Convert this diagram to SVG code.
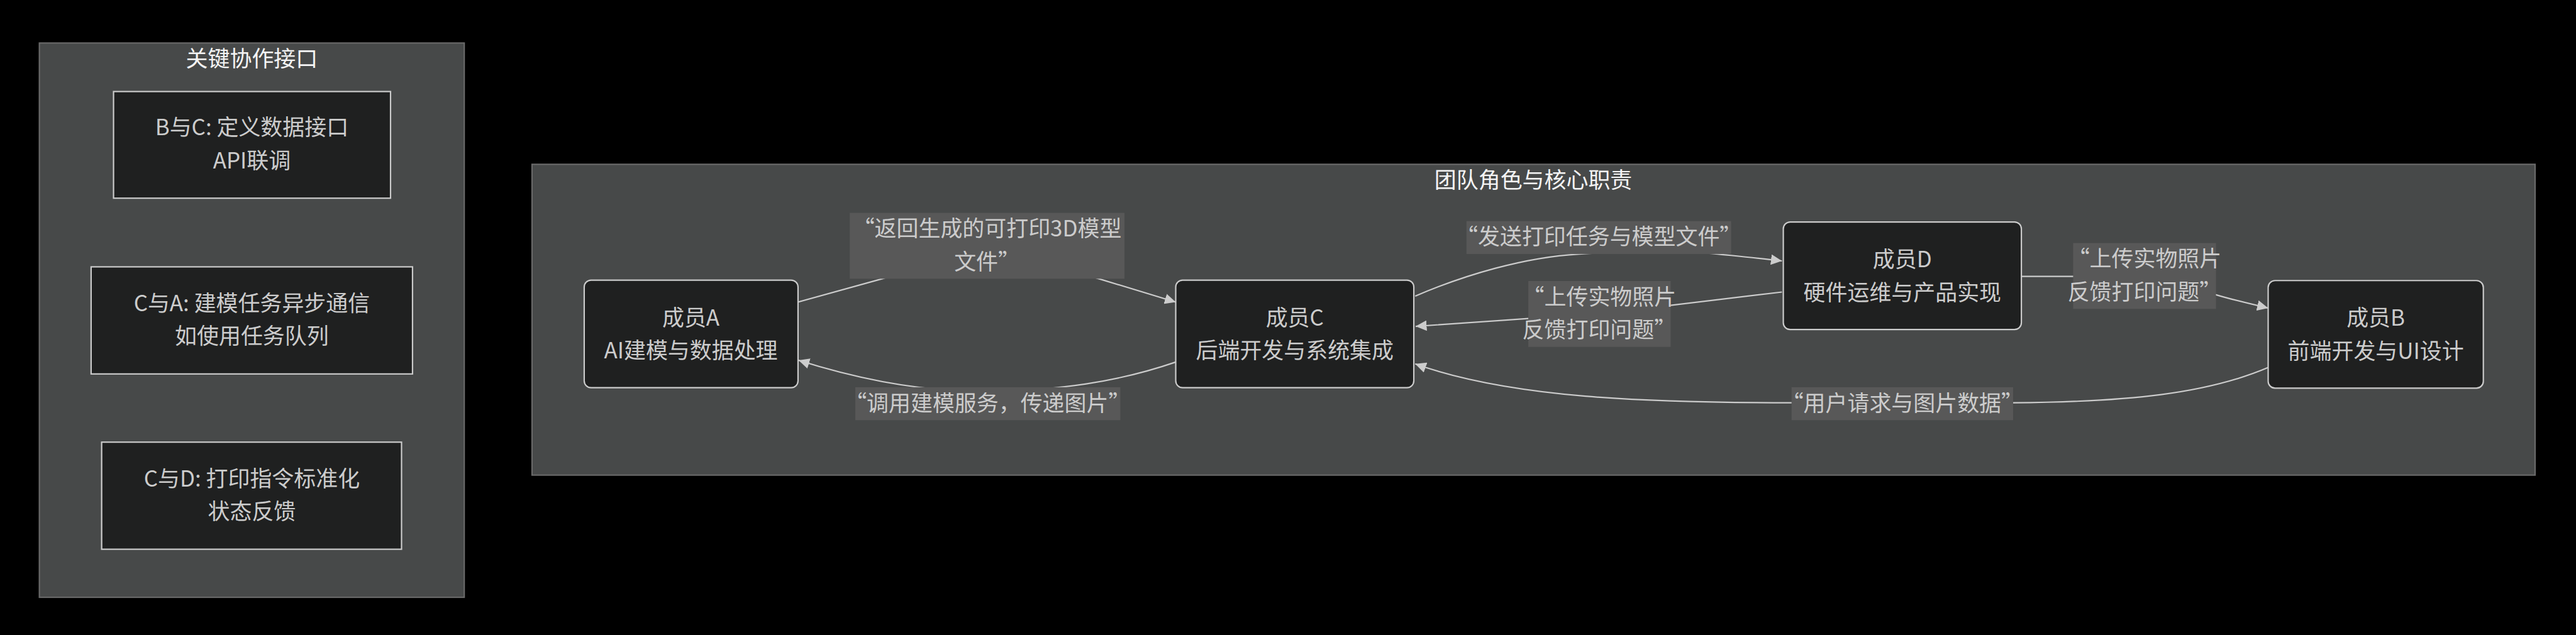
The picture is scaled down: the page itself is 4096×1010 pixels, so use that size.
<svg xmlns="http://www.w3.org/2000/svg" width="4096" height="1010" viewBox="0 0 4096 1010">
<defs>
<style>
.cluster rect{fill:#474949;stroke:#6a6a6a;stroke-width:3}
.ctitle{fill:#f4f4f4;font-family:"Noto Sans CJK SC","Liberation Sans",sans-serif;font-size:48px;text-anchor:middle}
.node rect{fill:#1f2020;stroke:#cccccc;stroke-width:3}
.node text,.elabel text{fill:#cccccc;font-family:"Noto Sans CJK SC","Liberation Sans",sans-serif;font-size:48px;text-anchor:middle}
.edge{fill:none;stroke:#cccccc;stroke-width:3;marker-end:url(#arrow)}
.elabel rect{fill:#585858}
</style>
<marker id="arrow" markerUnits="userSpaceOnUse" viewBox="0 0 24 23" refX="24" refY="11.5" markerWidth="24" markerHeight="23" orient="auto"><path d="M0,0 L24,11.5 L0,23 z" fill="#cccccc"/></marker>
</defs>
<rect width="4096" height="1010" fill="#000000"/>
<g transform="scale(0.728)">
  <g id="cluster-interfaces" class="cluster">
    <rect x="86" y="94" width="928" height="1211"/>
    <text class="ctitle" x="550" y="145">关键协作接口</text>
  </g>
  <g id="cluster-team" class="cluster">
    <rect x="1162" y="359" width="4375" height="679"/>
    <text class="ctitle" x="3349" y="411">团队角色与核心职责</text>
  </g>

  <g id="connectors">
    <path id="e-A-C" class="edge" d="M1743,660 L1927,609 C2020,580 2300,580 2400,609 L2568,660"/>
    <path id="e-C-A" class="edge" d="M2568,791 C2440,835 2310,853 2160,855 C2020,857 1880,830 1744,787"/>
    <path id="e-C-D" class="edge" d="M3091,647 C3200,600 3330,562 3449,555 C3560,548 3680,548 3752,555 C3800,560 3850,565 3892,570"/>
    <path id="e-D-C" class="edge" d="M3892,638 L3649,667 C3550,679 3440,689 3338,696 C3250,702 3170,708 3092,713"/>
    <path id="e-D-B" class="edge" d="M4416,604 L4560,604 C4680,604 4760,620 4840,644 C4880,656 4920,665 4954,673"/>
    <path id="e-B-C" class="edge" d="M4954,803 C4820,860 4650,878 4397,880 L3911,880 C3600,880 3300,870 3091,795"/>

    <g class="elabel" id="l-A-C">
      <rect x="1856" y="465" width="600" height="144"/>
      <text x="2156" y="517">“返回生成的可打印3D模型</text>
      <text x="2156" y="589">文件”</text>
    </g>
    <g class="elabel" id="l-C-A">
      <rect x="1868" y="846" width="579" height="72"/>
      <text x="2157" y="898">“调用建模服务，传递图片”</text>
    </g>
    <g class="elabel" id="l-C-D">
      <rect x="3203" y="483" width="578" height="72"/>
      <text x="3492" y="535">“发送打印任务与模型文件”</text>
    </g>
    <g class="elabel" id="l-D-C">
      <rect x="3338" y="614" width="311" height="144"/>
      <text x="3493" y="666">“上传实物照片</text>
      <text x="3493" y="738">反馈打印问题”</text>
    </g>
    <g class="elabel" id="l-D-B">
      <rect x="4528" y="531" width="312" height="144"/>
      <text x="4684" y="583">“上传实物照片</text>
      <text x="4684" y="655">反馈打印问题”</text>
    </g>
    <g class="elabel" id="l-B-C">
      <rect x="3913" y="846" width="484" height="72"/>
      <text x="4155" y="898">“用户请求与图片数据”</text>
    </g>
  </g>

  <g id="node-BC" class="node">
    <rect x="248" y="200" width="605" height="233"/>
    <text x="550" y="296">B与C: 定义数据接口</text>
    <text x="550" y="368">API联调</text>
  </g>
  <g id="node-CA" class="node">
    <rect x="199" y="583" width="702" height="234"/>
    <text x="550" y="680">C与A: 建模任务异步通信</text>
    <text x="550" y="752">如使用任务队列</text>
  </g>
  <g id="node-CD" class="node">
    <rect x="222" y="966" width="655" height="234"/>
    <text x="550" y="1063">C与D: 打印指令标准化</text>
    <text x="550" y="1135">状态反馈</text>
  </g>

  <g id="node-A" class="node">
    <rect x="1276" y="612" width="467" height="235" rx="15" ry="15"/>
    <text x="1509" y="711">成员A</text>
    <text x="1509" y="783">AI建模与数据处理</text>
  </g>
  <g id="node-C" class="node">
    <rect x="2568" y="612" width="520" height="235" rx="15" ry="15"/>
    <text x="2828" y="711">成员C</text>
    <text x="2828" y="783">后端开发与系统集成</text>
  </g>
  <g id="node-D" class="node">
    <rect x="3895" y="485" width="520" height="235" rx="15" ry="15"/>
    <text x="4155" y="584">成员D</text>
    <text x="4155" y="656">硬件运维与产品实现</text>
  </g>
  <g id="node-B" class="node">
    <rect x="4954" y="613" width="470" height="235" rx="15" ry="15"/>
    <text x="5189" y="712">成员B</text>
    <text x="5189" y="784">前端开发与UI设计</text>
  </g>
</g>
</svg>
